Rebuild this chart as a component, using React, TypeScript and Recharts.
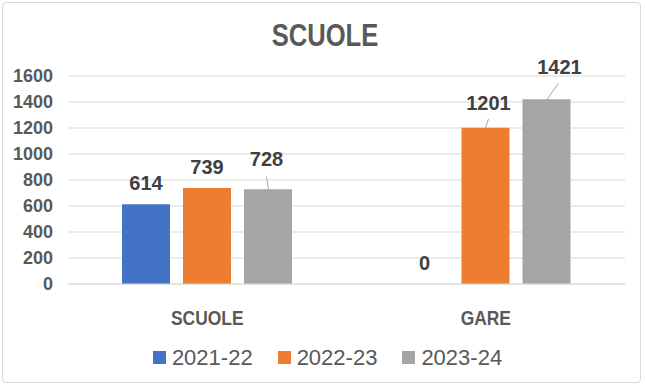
import React from 'react';
import { BarChart, Bar, XAxis, YAxis, CartesianGrid, Legend, LabelList } from 'recharts';

const CATEGORIES = ['SCUOLE', 'GARE'];
const SERIES = ['2021-22', '2022-23', '2023-24'];
const VALUES_2021 = [614, 0];
const VALUES_2022 = [739, 1201];
const VALUES_2023 = [728, 1421];
const Y_TICKS = [0, 200, 400, 600, 800, 1000, 1200, 1400, 1600];
const COLORS = ['#4472C4', '#ED7D31', '#A5A5A5'];

const data = CATEGORIES.map((name, i) => ({
  name,
  [SERIES[0]]: VALUES_2021[i],
  [SERIES[1]]: VALUES_2022[i],
  [SERIES[2]]: VALUES_2023[i],
}));

// label placement tweaks (Excel moved some labels and drew leader lines)
type Nudge = { dx: number; dy: number; leader?: [number, number, number, number] };
const LABEL_NUDGE: Record<string, Nudge> = {
  '2023-24|SCUOLE': { dx: -1.5, dy: -30, leader: [0.5, 0.5, -1.5, -12.5] },
  '2022-23|GARE': { dx: 3, dy: -25, leader: [0, 0, 3, -9] },
  '2023-24|GARE': { dx: 13, dy: -32, leader: [0, 1, 12, -16] },
};

const FONT = '"Liberation Sans", Arial, sans-serif';

const makeLabel = (series: string) => (props: any) => {
  const { x, y, width, value, index } = props;
  const n = LABEL_NUDGE[`${series}|${CATEGORIES[index]}`] ?? { dx: 0, dy: -21 };
  const bx = x + width / 2;
  return (
    <g>
      {n.leader && (
        <line
          x1={bx + n.leader[0]}
          y1={y + n.leader[1]}
          x2={bx + n.leader[2]}
          y2={y + n.leader[3]}
          stroke="#A6A6A6"
          strokeWidth={1}
        />
      )}
      <text
        x={bx + n.dx}
        y={y + n.dy + 7}
        textAnchor="middle"
        fontFamily={FONT}
        fontWeight="bold"
        fontSize={20}
        fill="#404040"
      >
        {value}
      </text>
    </g>
  );
};

const CategoryTick = (props: any) => {
  const { x, y, payload } = props;
  return (
    <g transform={`translate(${x},${y + 33}) scale(0.87,1)`}>
      <text textAnchor="middle" fontFamily={FONT} fontWeight="bold" fontSize={20} fill="#595959">
        {payload.value}
      </text>
    </g>
  );
};

const LegendContent = () => (
  <div
    style={{
      display: 'flex',
      justifyContent: 'center',
      alignItems: 'center',
      height: 33,
      paddingLeft: 10,
      fontFamily: FONT,
      fontSize: 22,
      color: '#595959',
    }}
  >
    {SERIES.map((s, i) => (
      <div key={s} style={{ display: 'flex', alignItems: 'center', marginRight: i < SERIES.length - 1 ? 25 : 0 }}>
        <span style={{ width: 13, height: 13, background: COLORS[i], marginRight: 6, display: 'inline-block' }} />
        <span>{s}</span>
      </div>
    ))}
  </div>
);

// zero-height bars still need their "0" label, so give them a hair of height
const tinyForZero = (v: any) => (v === 0 ? 0.01 : 0);

export default function App() {
  return (
    <div
      style={{
        position: 'fixed',
        left: 0,
        top: 0,
        width: 645,
        height: 387,
        background: '#fff',
      }}
    >
      <div
        style={{
          position: 'absolute',
          left: 2,
          top: 2,
          width: 639,
          height: 381,
          border: '1px solid #D9D9D9',
          borderRadius: 4,
          boxSizing: 'border-box',
        }}
      />
      <svg style={{ position: 'absolute', left: 0, top: 0 }} width={645} height={60}>
        <g transform="translate(325,46) scale(0.8,1)">
          <text textAnchor="middle" fontFamily={FONT} fontWeight="bold" fontSize={32} fill="#595959">
            SCUOLE
          </text>
        </g>
      </svg>
      <div style={{ position: 'absolute', left: 0, top: 0 }}>
        <BarChart
          width={645}
          height={387}
          data={data}
          margin={{ top: 76, right: 20, left: 0, bottom: 20 }}
          barSize={48}
          barGap={13}
        >
          <CartesianGrid vertical={false} stroke="#D9D9D9" />
          <XAxis
            dataKey="name"
            height={50}
            axisLine={{ stroke: '#D9D9D9' }}
            tickLine={false}
            tick={<CategoryTick />}
            interval={0}
          />
          <YAxis
            width={68}
            domain={[0, 1600]}
            ticks={Y_TICKS}
            axisLine={false}
            tickLine={false}
            tickSize={0}
            tickMargin={15}
            tick={{ fontFamily: FONT, fontWeight: 'bold', fontSize: 18, fill: '#595959' }}
          />
          <Legend
            verticalAlign="bottom"
            content={<LegendContent />}
            wrapperStyle={{ top: 341, left: 0, width: 645 }}
          />
          {SERIES.map((s, i) => (
            <Bar key={s} dataKey={s} fill={COLORS[i]} isAnimationActive={false} minPointSize={tinyForZero}>
              <LabelList dataKey={s} content={makeLabel(s)} />
            </Bar>
          ))}
        </BarChart>
      </div>
    </div>
  );
}
